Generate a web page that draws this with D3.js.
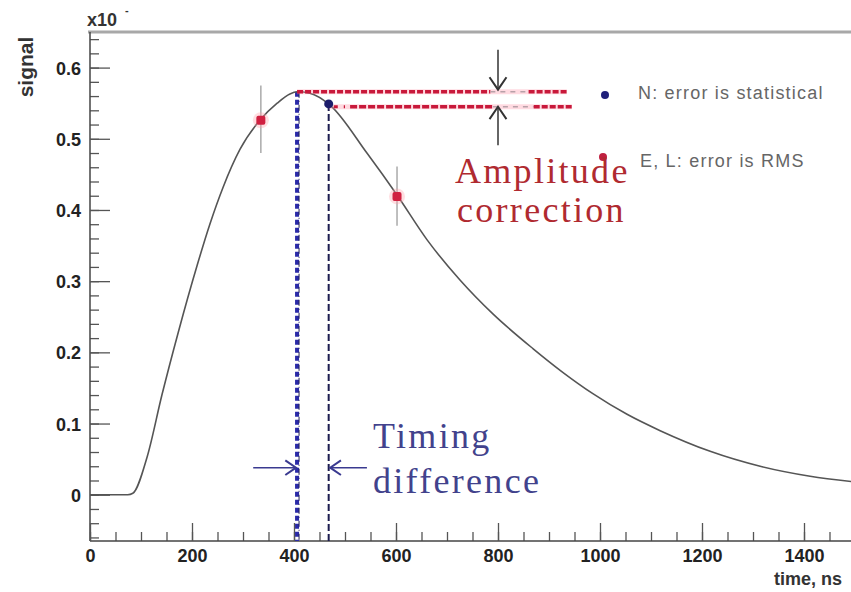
<!DOCTYPE html>
<html><head><meta charset="utf-8">
<script src="https://cdn.jsdelivr.net/npm/d3@7"></script>
<style>
html,body{margin:0;padding:0;background:#fff;}
svg{display:block;}
</style></head>
<body>
<svg id="chart" width="851" height="592"></svg>
<script>
// ---- data ----
const curveTime = [0, 74, 84, 112, 141, 173, 210, 235, 261, 294, 333, 367, 392, 406, 431, 471, 543, 602, 661, 725, 790, 869, 927, 986, 1053, 1118, 1216, 1314, 1412, 1500];
const curveSignal = [0, 0, 0.002, 0.053, 0.140, 0.228, 0.322, 0.380, 0.432, 0.485, 0.526, 0.550, 0.563, 0.566, 0.564, 0.547, 0.480, 0.421, 0.358, 0.302, 0.254, 0.205, 0.172, 0.142, 0.113, 0.090, 0.061, 0.040, 0.026, 0.018];
const rmsTime = [335, 602];
const rmsSignal = [0.526, 0.419];
const rmsLow = [0.480, 0.378];
const rmsHigh = [0.575, 0.461];
const statTime = [468];
const statSignal = [0.549];
const xTicksMajor = [0, 200, 400, 600, 800, 1000, 1200, 1400];
const yTicksMajor = [0, 0.1, 0.2, 0.3, 0.4, 0.5, 0.6];
const peakTime = 406, peakSignal = 0.566;
const legendLabels = ["N: error is statistical", "E, L: error is RMS"];

// ---- scales ----
const svg = d3.select("#chart");
const x = d3.scaleLinear().domain([0, 1500]).range([90, 855]);
const y = d3.scaleLinear().domain([-0.065, 0.65]).range([541, 32]);

// frame top line
svg.append("line").attr("x1", 88).attr("x2", 851).attr("y1", 32).attr("y2", 32)
  .attr("stroke", "#a8a8a8").attr("stroke-width", 3);

// y axis
const yMinor = d3.range(-0.06, 0.65, 0.02);
svg.append("g").attr("transform", "translate(90,0)")
  .call(d3.axisRight(y).tickValues(yMinor).tickSize(9).tickFormat(""))
  .call(g => g.select(".domain").remove())
  .selectAll("line").attr("stroke", "#555").attr("stroke-width", 1.3);
const ya = svg.append("g").attr("transform", "translate(90,0)")
  .call(d3.axisRight(y).tickValues(yTicksMajor).tickSize(20).tickFormat(d3.format("")).tickSizeOuter(0));
ya.select(".domain").attr("stroke", "#444").attr("stroke-width", 1.5).attr("d", "M0,32V541");
ya.selectAll("line").attr("stroke", "#555").attr("stroke-width", 1.3);
ya.selectAll("text").attr("x", -9).attr("dy", "0.36em").attr("text-anchor", "end")
  .attr("font-family", "Liberation Sans, Arial, sans-serif").attr("font-weight", "bold")
  .attr("font-size", 18).attr("fill", "#222");

// x axis
const xMinor = d3.range(0, 1501, 50);
svg.append("g").attr("transform", "translate(0,541)")
  .call(d3.axisTop(x).tickValues(xMinor).tickSize(9).tickFormat(""))
  .call(g => g.select(".domain").remove())
  .selectAll("line").attr("stroke", "#555").attr("stroke-width", 1.3);
const xa = svg.append("g").attr("transform", "translate(0,541)")
  .call(d3.axisTop(x).tickValues(xTicksMajor).tickSize(18).tickFormat(d3.format("")).tickSizeOuter(0));
xa.select(".domain").attr("stroke", "#444").attr("stroke-width", 1.5).attr("d", "M90,0H851");
xa.selectAll("line").attr("stroke", "#555").attr("stroke-width", 1.3);
xa.selectAll("text").attr("y", 21).attr("dy", 0)
  .attr("font-family", "Liberation Sans, Arial, sans-serif").attr("font-weight", "bold")
  .attr("font-size", 18).attr("fill", "#222");

// axis titles
svg.append("text").attr("transform", "translate(33,67) rotate(-90)").attr("text-anchor", "middle")
  .attr("font-family", "Liberation Sans, Arial, sans-serif").attr("font-weight", "bold")
  .attr("font-size", 21).attr("fill", "#333").text("signal");
svg.append("text").attr("x", 842).attr("y", 585).attr("text-anchor", "end")
  .attr("font-family", "Liberation Sans, Arial, sans-serif").attr("font-weight", "bold")
  .attr("font-size", 18).attr("fill", "#333").text("time, ns");
const sc = svg.append("text").attr("x", 87).attr("y", 26)
  .attr("font-family", "Liberation Sans, Arial, sans-serif").attr("font-weight", "bold")
  .attr("font-size", 18).attr("fill", "#333");
sc.append("tspan").text("x10");
sc.append("tspan").attr("dx", 8).attr("dy", -12).attr("font-size", 11).text("-");

// annotation: vertical lines
svg.append("line").attr("x1", x(peakTime)).attr("x2", x(peakTime)).attr("y1", y(peakSignal)).attr("y2", 541)
  .attr("stroke", "#2a2aa8").attr("stroke-width", 4).attr("stroke-dasharray", "5,3");
svg.append("line").attr("x1", x(peakTime) + 2).attr("x2", x(peakTime) + 2).attr("y1", y(peakSignal)).attr("y2", 541)
  .attr("stroke", "#222255").attr("stroke-width", 1).attr("stroke-dasharray", "6,3,1,3");
svg.append("line").attr("x1", x(statTime[0])).attr("x2", x(statTime[0])).attr("y1", y(statSignal[0])).attr("y2", 541)
  .attr("stroke", "#1c1c50").attr("stroke-width", 2).attr("stroke-dasharray", "7,3");

// curve
const pts = curveTime.map((t, i) => [t, curveSignal[i]]);
const line = d3.line().x(d => x(d[0])).y(d => y(d[1])).curve(d3.curveMonotoneX);
svg.append("path").datum(pts).attr("d", line).attr("fill", "none")
  .attr("stroke", "#555").attr("stroke-width", 1.6);

// red horizontal dashed lines
function hdash(t1, t2, v, w, col, dash) {
  svg.append("line").attr("x1", x(t1)).attr("x2", x(t2)).attr("y1", y(v)).attr("y2", y(v))
    .attr("stroke", col).attr("stroke-width", w).attr("stroke-dasharray", dash);
}
hdash(peakTime, 935, peakSignal, 5, "rgba(255,150,170,0.35)", null);
hdash(peakTime, 785, peakSignal, 3.5, "#c8183a", "6,2");
hdash(785, 860, peakSignal, 1.5, "#b8a0a8", "5,5");
hdash(860, 935, peakSignal, 3.5, "#c8183a", "6,2");
hdash(statTime[0], 945, statSignal[0] - 0.004, 5, "rgba(255,150,170,0.35)", null);
hdash(statTime[0] + 10, 500, statSignal[0] - 0.004, 3.2, "#c8183a", "4,6");
hdash(510, 790, statSignal[0] - 0.004, 3.5, "#c8183a", "7,2");
hdash(790, 870, statSignal[0] - 0.004, 1.5, "#b8a0a8", "5,5");
hdash(870, 945, statSignal[0] - 0.004, 3.5, "#c8183a", "6,2");

// arrows
function arrow(x1, y1, x2, y2, col, w, head) {
  svg.append("line").attr("x1", x1).attr("y1", y1).attr("x2", x2).attr("y2", y2)
    .attr("stroke", col).attr("stroke-width", w);
  const a = Math.atan2(y2 - y1, x2 - x1);
  const p = [[x2 - head * Math.cos(a - 0.6), y2 - head * Math.sin(a - 0.6)], [x2, y2],
             [x2 - head * Math.cos(a + 0.6), y2 - head * Math.sin(a + 0.6)]];
  svg.append("path").attr("d", d3.line()(p)).attr("fill", "none").attr("stroke", col).attr("stroke-width", w + 0.5);
}
arrow(x(800), y(0.625), x(800), y(0.569), "#333", 1.5, 15);
arrow(x(800), y(0.491), x(800), y(0.545), "#333", 1.5, 15);
arrow(x(320), y(0.038), x(peakTime - 2), y(0.038), "#3a3a90", 1.5, 13);
arrow(x(543), y(0.038), x(statTime[0] + 3), y(0.038), "#3a3a90", 1.5, 13);

// error bars + markers
rmsTime.forEach((t, i) => {
  svg.append("line").attr("x1", x(t)).attr("x2", x(t)).attr("y1", y(rmsLow[i])).attr("y2", y(rmsHigh[i]))
    .attr("stroke", "#aaa").attr("stroke-width", 1.5);
  svg.append("circle").attr("cx", x(t)).attr("cy", y(rmsSignal[i])).attr("r", 8).attr("fill", "rgba(255,160,170,0.35)");
  svg.append("rect").attr("x", x(t) - 4.5).attr("y", y(rmsSignal[i]) - 4.5).attr("width", 9).attr("height", 9)
    .attr("rx", 2).attr("fill", "#d02040");
});
statTime.forEach((t, i) => {
  svg.append("circle").attr("cx", x(t)).attr("cy", y(statSignal[i])).attr("r", 4.5).attr("fill", "#1c1c6a");
});

// legend
svg.append("circle").attr("cx", 605).attr("cy", 95).attr("r", 4).attr("fill", "#20207a");
svg.append("circle").attr("cx", 603).attr("cy", 157).attr("r", 4).attr("fill", "#c02040");
[[legendLabels[0], 638, 99], [legendLabels[1], 640, 167]].forEach(([t, lx, ly]) => {
  svg.append("text").attr("x", lx).attr("y", ly).attr("font-family", "Liberation Sans, Arial, sans-serif")
    .attr("font-size", 18).attr("letter-spacing", 1.2).attr("fill", "#666").text(t);
});

// big annotation texts
function big(t, tx, ty, col) {
  svg.append("text").attr("x", tx).attr("y", ty).attr("font-family", "Liberation Serif, Times New Roman, serif")
    .attr("font-size", 36).attr("letter-spacing", 2.3).attr("fill", col).text(t);
}
big("Amplitude", 455, 183, "#b02a30");
big("correction", 457, 222, "#b02a30");
big("Timing", 373, 448, "#42428c");
big("difference", 373, 493, "#42428c");
</script>
</body></html>
